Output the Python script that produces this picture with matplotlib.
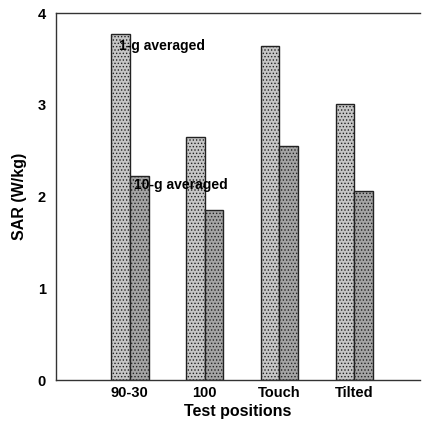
import numpy as np
import matplotlib
matplotlib.use('Agg')
import matplotlib.pyplot as plt

positions = ['90-30', '100', 'Touch', 'Tilted']
sar_1g = [3.77, 2.65, 3.64, 3.01]
sar_10g = [2.22, 1.85, 2.55, 2.06]

plt.rcParams['font.family'] = ['Liberation Sans', 'DejaVu Sans']
plt.rcParams['font.weight'] = 'bold'
plt.rcParams['hatch.color'] = '#8f8f8f'
plt.rcParams['hatch.linewidth'] = 0.6

fig = plt.figure(figsize=(4.26, 4.21), dpi=100)
ax = fig.add_axes([0.131, 0.097, 0.855, 0.872])

x = np.arange(len(positions))
w = 0.25
ax.bar(x - w / 2, sar_1g, w, color='#c6c6c6', edgecolor='#222222', linewidth=1.0,
       hatch='.....')
ax.bar(x + w / 2, sar_10g, w, color='#a4a4a4', edgecolor='#222222', linewidth=1.0,
       hatch='.....')

ax.text(-0.14, 3.6, '1-g averaged', fontsize=10, fontweight='bold')
ax.text(0.06, 2.08, '10-g averaged', fontsize=10, fontweight='bold')

ax.set_xlim(-0.99, 3.88)
ax.set_ylim(0, 4)
ax.set_yticks([0, 1, 2, 3, 4])
ax.set_xticks(x)
ax.set_xticklabels(positions)
ax.tick_params(length=0, labelsize=10.5)
ax.tick_params(axis='x', pad=4)
ax.tick_params(axis='y', pad=7)
for lab in ax.get_xticklabels() + ax.get_yticklabels():
    lab.set_fontweight('bold')
ax.set_xlabel('Test positions', fontsize=11.5, fontweight='bold', labelpad=3)
ax.set_ylabel('SAR (W/kg)', fontsize=11.5, fontweight='bold', labelpad=8)
ax.spines['right'].set_visible(False)
for s in ['left', 'bottom', 'top']:
    ax.spines[s].set_color('#333333')
    ax.spines[s].set_linewidth(1.0)

fig.savefig('out.png', dpi=100)
